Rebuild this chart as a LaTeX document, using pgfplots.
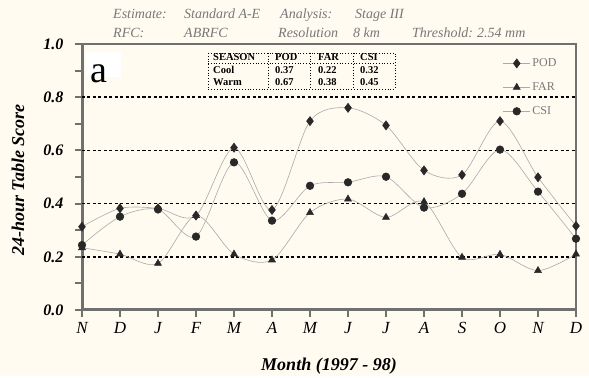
\documentclass[border=0pt]{standalone}
\usepackage{pgfplots}
\pgfplotsset{compat=1.18}
\usepackage{fontspec}
\setmainfont{Liberation Serif}
\definecolor{bg}{RGB}{255,251,240}
\definecolor{axgray}{RGB}{112,112,112}
\definecolor{lngray}{RGB}{170,170,170}
\definecolor{mk}{RGB}{40,40,40}
\definecolor{hdr}{RGB}{120,120,120}
\begin{document}
\begin{tikzpicture}
\fill[bg] (-82pt,-66pt) rectangle (507pt,310pt);
% frame
\draw[axgray, line width=1.8pt] (0pt,0pt) rectangle (494pt,266pt);
\draw[axgray, line width=3pt] (0pt,266pt) -- (0pt,0pt) -- (494pt,0pt);
\begin{axis}[
 scale only axis, width=494pt, height=266pt,
 xmin=0, xmax=13, ymin=0, ymax=1, clip=false,
 axis line style={draw=none},
 xtick={0,...,13}, xticklabels={N,D,J,F,M,A,M,J,J,A,S,O,N,D},
 ytick={0.2,0.4,0.6,0.8}, extra y ticks={0,1}, extra y tick style={grid=none},
 minor ytick={0.1,0.3,0.5,0.7,0.9},
 xtick pos=bottom, ytick pos=left,
 ymajorgrids, grid style={black, line width=1.6pt, dash pattern=on 3pt off 2.5pt},
 tick align=outside, major tick length=7pt, minor tick length=7pt,
 every tick/.style={axgray, line width=2pt},
 major tick style={axgray, line width=2pt},
 minor tick style={axgray, line width=2pt},
 /pgf/number format/assume math mode=true,
 yticklabel style={/pgf/number format/fixed, /pgf/number format/fixed zerofill, /pgf/number format/precision=1, /pgf/number format/assume math mode=true, font=\fontsize{16}{16}\selectfont\bfseries\itshape, xshift=-8pt},
 xticklabel style={font=\fontsize{17}{17}\selectfont\itshape, yshift=-2pt},
 xlabel={Month (1997 - 98)},
 ylabel={24-hour Table Score},
 xlabel style={font=\fontsize{18}{18}\selectfont\bfseries\itshape, at={(axis description cs:0.5,-0.2105)}, anchor=center},
 ylabel style={font=\fontsize{18}{18}\selectfont\bfseries\itshape, at={(axis description cs:-0.1296,0.489)}, anchor=center},
 every axis plot/.append style={lngray, line width=0.6pt, smooth},
 legend style={draw=none, fill=none, at={(axis description cs:0.852,0.953)}, anchor=north west, font=\fontsize{12}{12}\selectfont, text=hdr, row sep=10.5pt, inner sep=0pt},
 legend cell align=left,
 legend image code/.code={\draw[#1, mark repeat=2, mark phase=2] plot coordinates {(0cm,0cm) (0.47cm,0cm) (0.94cm,0cm)};},
]
\addplot[mark=diamond*, mark size=4.5pt, mark options={mk, fill=mk, solid}] coordinates {
(0,0.313) (1,0.382) (2,0.382) (3,0.355) (4,0.61) (5,0.376) (6,0.71) (7,0.76) (8,0.694) (9,0.525) (10,0.508) (11,0.71) (12,0.499) (13,0.316)};
\addplot[mark=triangle*, mark size=4pt, mark options={mk, fill=mk, solid}] coordinates {
(0,0.234) (1,0.21) (2,0.175) (3,0.355) (4,0.21) (5,0.188) (6,0.366) (7,0.417) (8,0.348) (9,0.407) (10,0.198) (11,0.209) (12,0.148) (13,0.21)};
\addplot[mark=*, mark size=3.8pt, mark options={mk, fill=mk, solid}] coordinates {
(0,0.244) (1,0.351) (2,0.378) (3,0.276) (4,0.555) (5,0.336) (6,0.467) (7,0.48) (8,0.501) (9,0.385) (10,0.437) (11,0.603) (12,0.445) (13,0.268)};
\legend{POD,FAR,CSI}
\end{axis}
% header
\begin{scope}[every node/.style={anchor=base west, inner sep=0pt, text=hdr, font=\fontsize{14}{14}\selectfont\itshape}]
\node at (31pt,291pt) {Estimate:};
\node at (102pt,291pt) {Standard A-E};
\node at (198pt,291pt) {Analysis:};
\node at (273pt,291pt) {Stage III};
\node at (31pt,272pt) {RFC:};
\node at (102pt,272pt) {ABRFC};
\node at (196pt,272pt) {Resolution};
\node at (271pt,272pt) {8 km};
\node at (330pt,272pt) {Threshold:};
\node at (395pt,272pt) {2.54 mm};
\end{scope}
% label a
\fill[white] (4pt,233pt) rectangle (39pt,258pt);
\node[anchor=base west, inner sep=0pt, font=\fontsize{38}{38}\selectfont] at (8pt,227pt) {a};
% table
\begin{scope}[black, line width=0.8pt, dotted]
\draw (126pt,257pt) rectangle (313pt,221pt);
\draw (126pt,247pt) -- (313pt,247pt);
\draw (186pt,257pt) -- (186pt,221pt);
\draw (228pt,257pt) -- (228pt,221pt);
\draw (271pt,257pt) -- (271pt,221pt);
\end{scope}
\begin{scope}[every node/.style={anchor=base west, inner sep=0pt, font=\fontsize{10.5}{10.5}\selectfont\bfseries}]
\node at (131pt,249pt) {SEASON};
\node at (193pt,249pt) {POD};
\node at (236pt,249pt) {FAR};
\node at (278pt,249pt) {CSI};
\node at (131pt,236pt) {Cool};
\node at (193pt,236pt) {0.37};
\node at (236pt,236pt) {0.22};
\node at (278pt,236pt) {0.32};
\node at (131pt,224pt) {Warm};
\node at (193pt,224pt) {0.67};
\node at (236pt,224pt) {0.38};
\node at (278pt,224pt) {0.45};
\end{scope}
\end{tikzpicture}
\end{document}
